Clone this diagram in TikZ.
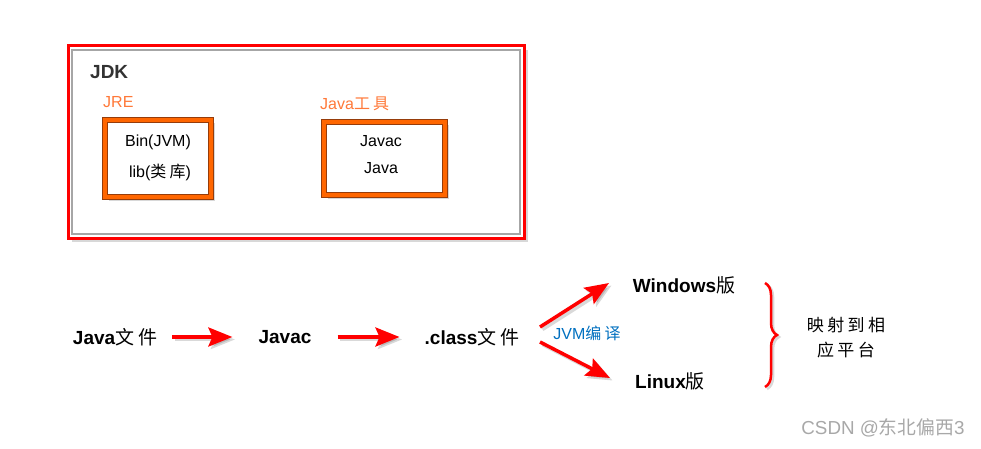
\documentclass[tikz,border=0pt]{standalone}
\usepackage{fontspec}
\setmainfont{Liberation Sans}
\newfontfamily\cjk[LetterSpace=20]{Noto Sans CJK SC}
\newfontfamily\cjkw{Noto Sans CJK SC}
\newcommand\zhtxt[1]{{\cjk\mdseries #1}}
\usetikzlibrary{arrows.meta,shadows,decorations.pathreplacing}
\definecolor{jdkred}{RGB}{255,0,0}
\definecolor{boxorange}{RGB}{255,102,0}
\definecolor{boxedge}{RGB}{150,60,10}
\definecolor{lblorange}{RGB}{255,121,57}
\definecolor{jvmblue}{RGB}{0,112,192}
\definecolor{wmgray}{RGB}{168,168,168}
\definecolor{jdktext}{RGB}{50,50,50}
\begin{document}
\begin{tikzpicture}[x=1pt,y=-1pt,
  lbl/.style={inner sep=0pt, font=\fontsize{19}{22}\selectfont\bfseries},
  sm/.style={inner sep=0pt, font=\fontsize{16}{19}\selectfont},
  shad/.style={drop shadow={opacity=0.3, shadow xshift=4pt, shadow yshift=-4pt}},
  obox/.style={draw=boxorange, line width=5pt, fill=white, inner sep=0pt, outer sep=0pt, shad},
  arr/.style={draw=red, line width=3.5pt, -{Stealth[length=24pt,width=19pt,inset=4pt]}},
  arrsh/.style={draw=black, opacity=0.15, line width=3.5pt, -{Stealth[length=24pt,width=19pt,inset=4pt]}}]
\useasboundingbox[fill=white] (0,0) rectangle (981,449);

% JDK frame
\node[draw=jdkred, line width=3pt, fill=white, inner sep=0pt, outer sep=0pt,
  minimum width=456pt, minimum height=192pt, shad] (jdk) at (296,142) {};
\draw[gray!70, line width=1.5pt] ([shift={(4,4)}]jdk.north west) rectangle ([shift={(-4,-4)}]jdk.south east);
\node[inner sep=0pt, anchor=west, text=jdktext, font=\fontsize{19}{22}\selectfont\bfseries] (tjdk) at (90,72) {JDK};

% JRE box
\node[sm, anchor=west, text=lblorange] (tjre) at (103,102) {JRE};
\node[obox, minimum width=106pt, minimum height=77pt] (jre) at (157.5,158) {};
\draw[boxedge, line width=0.8pt] ([shift={(-2.5,-2.5)}]jre.north west) rectangle ([shift={(2.5,2.5)}]jre.south east);
\draw[boxedge, line width=0.8pt] ([shift={(2.5,2.5)}]jre.north west) rectangle ([shift={(-2.5,-2.5)}]jre.south east);
\node[sm] (bin) at (158,142) {Bin(JVM)};
\node[sm] (lib) at (160,172) {lib(\zhtxt{类库})};

% Java tools box
\node[sm, anchor=west, text=lblorange] (ttool) at (320,104) {Java\zhtxt{工具}};
\node[obox, minimum width=121pt, minimum height=73pt] (tool) at (384,158) {};
\draw[boxedge, line width=0.8pt] ([shift={(-2.5,-2.5)}]tool.north west) rectangle ([shift={(2.5,2.5)}]tool.south east);
\draw[boxedge, line width=0.8pt] ([shift={(2.5,2.5)}]tool.north west) rectangle ([shift={(-2.5,-2.5)}]tool.south east);
\node[sm] (jc1) at (381,141) {Javac};
\node[sm] (j1) at (381,168) {Java};

% bottom flow
\node[lbl] (jf) at (115,337) {Java\zhtxt{文件}};
\node[lbl] (jv) at (285,337) {Javac};
\node[lbl] (cf) at (472,337) {.class\zhtxt{文件}};
\node[lbl] (win) at (684,285) {Windows\zhtxt{版}};
\node[lbl] (lin) at (670,381) {Linux\zhtxt{版}};
\node[sm, text=jvmblue] (jvm) at (587,333) {JVM\zhtxt{编译}};
\node[inner sep=0pt, font=\fontsize{17}{25}\selectfont\cjk, align=center] (map) at (846,338) {映射到相\\应平台};
\node[inner sep=0pt, font=\fontsize{18.8}{22}\selectfont, text=wmgray] (wm) at (883,428) {CSDN @{\cjkw 东北偏西}3};

% connectors: faint shadows first, then the red arrows
\coordinate (d1s) at (540,327);
\coordinate (d1e) at (609,283);
\coordinate (d2s) at (540,342);
\coordinate (d2e) at (610,378);
\begin{scope}[transform canvas={xshift=2.5pt,yshift=-2.5pt}]
\draw[arrsh] ([xshift=15pt]jf.east) -- ([xshift=-26pt]jv.west);
\draw[arrsh] ([xshift=26pt]jv.east) -- ([xshift=-25pt]cf.west);
\draw[arrsh] (d1s) -- (d1e);
\draw[arrsh] (d2s) -- (d2e);
\end{scope}
\draw[arr] ([xshift=15pt]jf.east) -- ([xshift=-26pt]jv.west);
\draw[arr] ([xshift=26pt]jv.east) -- ([xshift=-25pt]cf.west);
\draw[arr] (d1s) -- (d1e);
\draw[arr] (d2s) -- (d2e);

% brace
\coordinate (br1) at (765,283);
\coordinate (br2) at (765,387);
\draw[black, opacity=0.15, line width=2.5pt, decorate, decoration={brace, amplitude=12pt}, transform canvas={xshift=2pt,yshift=-2pt}] (br1) -- (br2);
\draw[red, line width=2.5pt, decorate, decoration={brace, amplitude=12pt}] (br1) -- (br2);
\end{tikzpicture}
\end{document}
